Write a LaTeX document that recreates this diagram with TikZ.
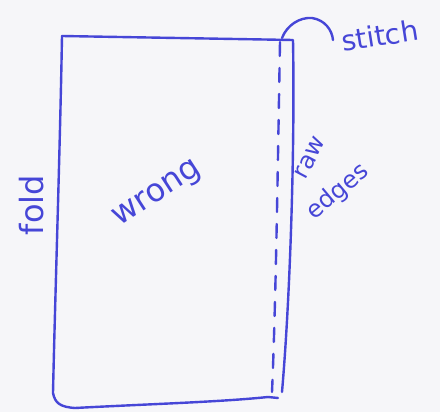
\documentclass[tikz,border=0pt]{standalone}
\usepackage{fontspec}
\setmainfont{DejaVu Sans}
\begin{document}
\begin{tikzpicture}[x=1pt,y=-1pt,
  ink/.style={draw=inkblue, line width=2.4pt, line cap=round, line join=round},
  inktext/.style={text=inkblue, inner sep=0pt, font=\fontsize{24}{26}\selectfont}]
\definecolor{inkblue}{RGB}{70,70,215}
\definecolor{paper}{RGB}{246,246,249}
\fill[paper] (0,0) rectangle (440,412);
\useasboundingbox (0,0) rectangle (440,412);
% outline of the folded piece
\coordinate (tl) at (62,36);
\coordinate (tr) at (293,40);
\coordinate (br) at (282,392);
\draw[ink] (tl) -- (tr) .. controls (295,150) and (290,300) .. (br);
\draw[ink] (tl) .. controls (60,150) and (55,300) .. (53,393) .. controls (55,403) and (60,407) .. (75,408)
  .. controls (150,404) and (220,402) .. (268,397) -- (278,398);
% stitch line
\draw[ink, dash pattern=on 14pt off 12pt] (280,42) .. controls (278,150) and (276,300) .. (272,392);
% stitch pointer
\coordinate (hk) at (282,38);
\draw[ink] (hk) .. controls (287,25) and (300,17) .. (312,18) .. controls (325,20) and (332,30) .. (333,40);
\node[inktext, anchor=base west, rotate=9, font=\fontsize{28}{30}\selectfont] (stitch) at (343,52) {stitch};
\node[inktext, rotate=33, font=\fontsize{32}{34}\selectfont] (wrong) at (158,195) {wrong};
\node[inktext, rotate=90, font=\fontsize{32}{34}\selectfont] (fold) at (32,205) {fold};
\node[inktext, rotate=62] (raw) at (310,158) {raw};
\node[inktext, rotate=40] (edges) at (338,192) {edges};
\end{tikzpicture}
\end{document}
